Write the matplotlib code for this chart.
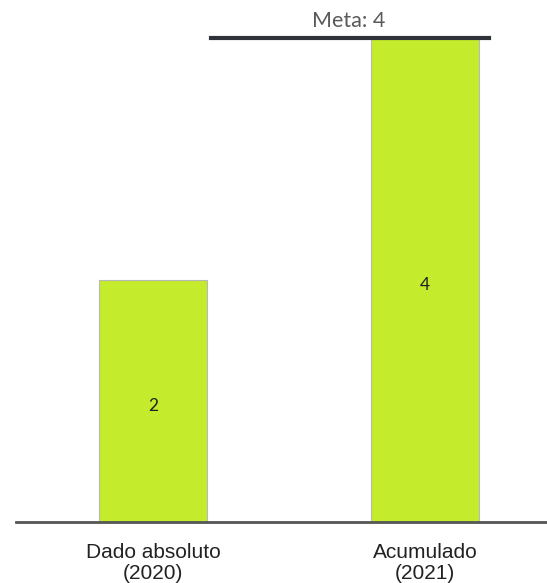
import matplotlib
matplotlib.use("Agg")
import matplotlib.pyplot as plt

categories = ["Dado absoluto\n(2020)", "Acumulado\n(2021)"]
values = [2, 4]
meta = 4

fig = plt.figure(figsize=(5.47, 5.83), dpi=100)
ax = fig.add_axes([16 / 547, 61 / 583, 531 / 547, 484 / 583])

x = list(range(len(categories)))
bars = ax.bar(x, values, width=0.397, color="#c4eb2c", edgecolor="#b8b8b8", linewidth=0.8, zorder=2)
for xi, v in zip(x, values):
    ax.text(xi, v / 2 - 0.04, str(v), ha="center", va="center", fontsize=12.5,
            family="Lato", color="#222222")

ax.plot([0.213, 1.235], [meta, meta], color="#2f3238", lw=3, zorder=3, clip_on=False)
ax.text(0.72, meta + 0.06, "Meta: %d" % meta, ha="center", va="bottom", fontsize=15.5,
        family="Lato", color="#5a5a5a")

ax.set_xlim(-0.504, 1.449)
ax.set_ylim(0, 4)
ax.set_xticks(x)
ax.set_xticklabels(categories, fontsize=15, family="Liberation Sans", color="#222222",
                   linespacing=1.15)
ax.tick_params(axis="x", length=0, pad=15)
ax.set_yticks([])
for s in ["top", "right", "left"]:
    ax.spines[s].set_visible(False)
ax.spines["bottom"].set_color("#555555")
ax.spines["bottom"].set_linewidth(2)

fig.savefig("out.png", dpi=100)
